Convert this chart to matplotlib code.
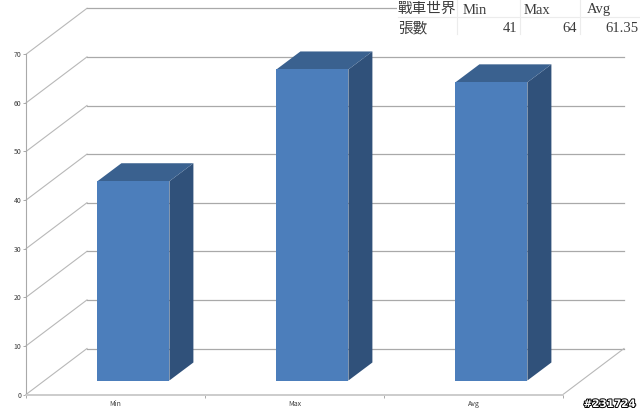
#-*- coding: utf-8 -*-
import matplotlib
matplotlib.use('Agg')
import matplotlib.pyplot as plt
import matplotlib.patheffects as pe
from matplotlib.patches import Polygon, Rectangle

plt.rcParams['font.family'] = ['Noto Sans CJK TC', 'DejaVu Sans']

categories = ['Min', 'Max', 'Avg']
values = [41, 64, 61.35]
y_ticks = [0, 10, 20, 30, 40, 50, 60, 70]
table_title = '戰車世界'
table_row = '張數'
table_values = ['41', '64', '61.35']

W, H = 640, 413
# pixel scale of the fake 3d box
cat_px = 179.0
val_px = 4.86
x0_px, y0_px = 26.0, 394.5
depth_x = 61 / cat_px     # wall depth in category units
depth_y = 46 / val_px     # wall depth in value units
bar_w = 72 / cat_px
bar_dx = 24 / cat_px
bar_dy = 18 / val_px
bar_off_x = 0.1
bar_off_y = 14 / val_px

grid_c = '#a9a9a9'
diag_c = '#b8b8b8'
front_c = '#4c7ebb'
side_c = '#30517a'
top_c = '#3a618f'
text_c = '#3c3c3c'

fig = plt.figure(figsize=(W / 100, H / 100), dpi=100)
ax = fig.add_axes([0, 0, 1, 1])
ax.set_xlim(-x0_px / cat_px, (W - x0_px) / cat_px)
ax.set_ylim((y0_px - H) / val_px, y0_px / val_px)
ax.patch.set_visible(False)

# walls
for v in y_ticks:
    ax.plot([0, depth_x], [v, v + depth_y], color=diag_c, lw=0.8, zorder=1)
    ax.plot([depth_x, 3 + depth_x], [v + depth_y, v + depth_y], color=grid_c, lw=0.9, zorder=1)
ax.plot([3, 3 + depth_x], [0, depth_y], color=diag_c, lw=0.8, zorder=1)

# bars
for i, v in enumerate(values):
    l = i + 0.5 - bar_w / 2 + bar_off_x
    r = l + bar_w
    b = bar_off_y
    t = b + v
    ax.add_patch(Polygon([(r, b), (r + bar_dx, b + bar_dy), (r + bar_dx, t + bar_dy), (r, t)],
                         fc=side_c, ec='none', zorder=3))
    ax.add_patch(Polygon([(l, t), (r, t), (r + bar_dx, t + bar_dy), (l + bar_dx, t + bar_dy)],
                         fc=top_c, ec='none', zorder=3))
    ax.add_patch(Rectangle((l, b), bar_w, v, fc=front_c, ec='none', zorder=4))

# axes
for s in ['top', 'right']:
    ax.spines[s].set_visible(False)
ax.spines['left'].set_position(('data', 0))
ax.spines['left'].set_bounds(0, 70)
ax.spines['left'].set_color(grid_c)
ax.spines['bottom'].set_position(('data', 0))
ax.spines['bottom'].set_bounds(0, 3)
ax.spines['bottom'].set_color('#cccccc')
ax.spines['bottom'].set_linewidth(1.4)
ax.set_yticks(y_ticks)
ax.tick_params(axis='y', length=2.5, width=0.7, color=grid_c, labelsize=5, labelcolor=text_c, pad=1)
ax.set_xticks([0.5, 1.5, 2.5])
ax.set_xticklabels(categories)
ax.set_xticks([0, 1, 2, 3], minor=True)
ax.tick_params(axis='x', which='major', length=0, labelsize=5, labelcolor=text_c, pad=4)
ax.tick_params(axis='x', which='minor', length=2.5, width=0.7, color=grid_c)


def px(x, y):
    return x / W, 1 - y / H


# excel table pasted top right
ax.add_patch(Rectangle(px(397, 36), 243 / W, 36 / H, transform=fig.transFigure, fc='white', ec='none', zorder=5))
fig.add_artist(plt.Line2D([398 / W, 1], [1 - 17 / H] * 2, color='#ececec', lw=0.8))
for x in [457, 520, 580]:
    fig.add_artist(plt.Line2D([x / W, x / W], [1 - 34 / H, 1], color='#ececec', lw=0.8))
fig.text(*px(398, 9), table_title, fontsize=10.5, va='center', ha='left', color=text_c)
fig.text(*px(398, 28), table_row, fontsize=10.5, va='center', ha='left', color=text_c)
for x, name in zip([463, 524, 587], categories):
    fig.text(*px(x, 10), name, fontsize=10.5, va='center', ha='left', color=text_c, family='Liberation Serif')
for x, val in zip([517, 577, 639], table_values):
    fig.text(*px(x, 28), val, fontsize=10.5, va='center', ha='right', color=text_c, family='Liberation Serif')

# watermark
fig.text(*px(636, 404), '#231724', fontsize=7.5, fontweight='bold', va='center', ha='right', color='white',
         family='DejaVu Sans', path_effects=[pe.withStroke(linewidth=1.4, foreground='black')])

fig.savefig('out.png', dpi=100)
